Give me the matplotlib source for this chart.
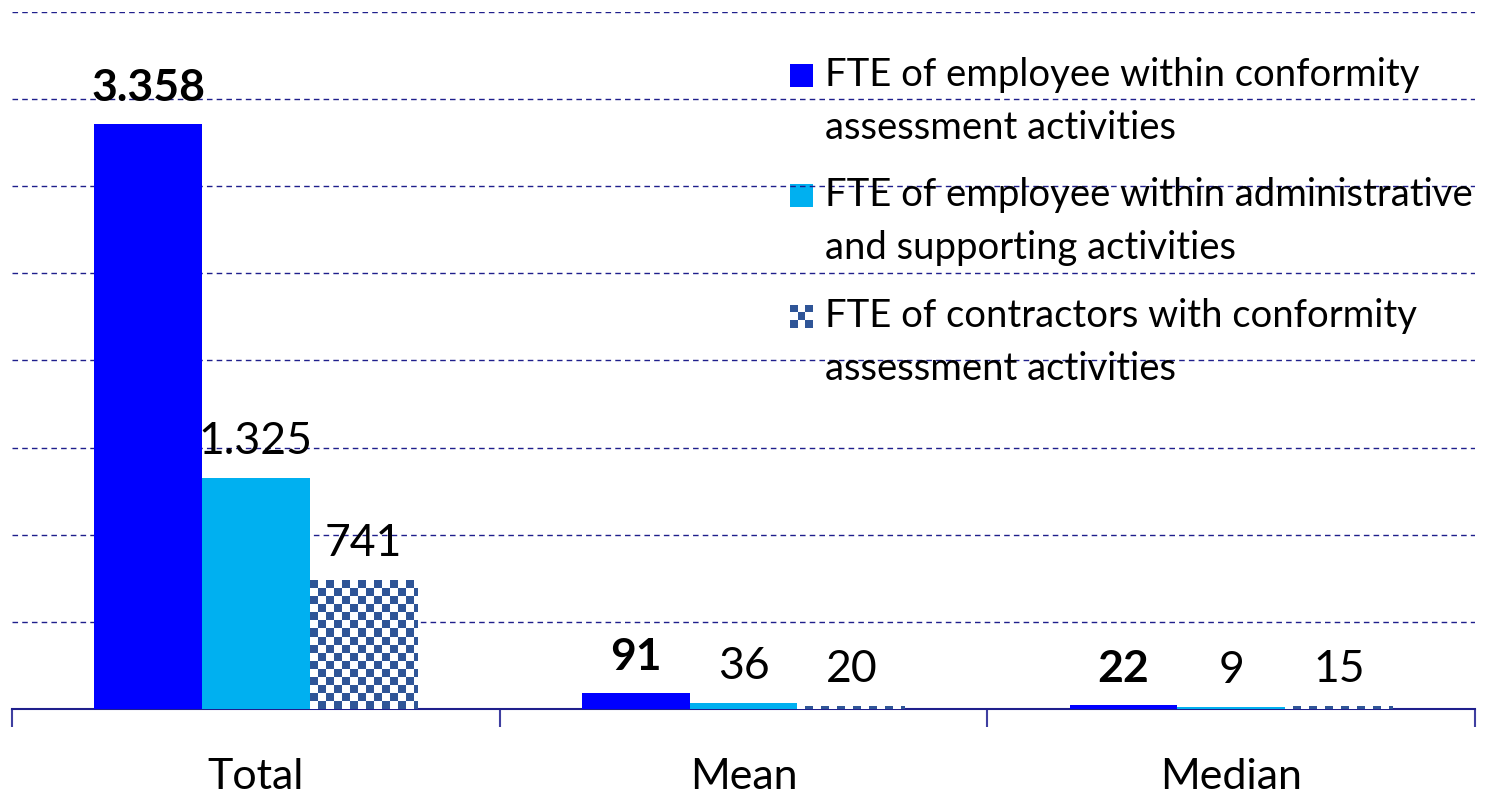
import numpy as np
import matplotlib
matplotlib.use("Agg")
import matplotlib.pyplot as plt
from matplotlib.patches import Rectangle

plt.rcParams['font.family'] = ['Lato', 'DejaVu Sans']

# data
categories = ["Total", "Mean", "Median"]
conformity = [3358, 91, 22]
admin = [1325, 36, 9]
contractors = [741, 20, 15]
series_labels = [
    "FTE of employee within conformity\nassessment activities",
    "FTE of employee within administrative\nand supporting activities",
    "FTE of contractors with conformity\nassessment activities",
]


def fmt(v):
    # thousands separator is a dot in the original
    return f"{v:,}".replace(",", ".")


W, H = 1497, 793
fig = plt.figure(figsize=(W / 100, H / 100), dpi=100)
ax = fig.add_axes([12 / W, (H - 709) / H, 1463 / W, 697 / H])

navy = "#1F1F8C"
c_blue = "#0000FF"
c_cyan = "#00B0F0"
c_check = "#2F5597"

x = np.arange(len(categories))
bw = 0.221

b1 = ax.bar(x - bw, conformity, bw, color=c_blue, zorder=3)
b2 = ax.bar(x, admin, bw, color=c_cyan, zorder=3)
b3 = ax.bar(x + bw, contractors, bw, color="white", zorder=3)

ax.set_xlim(-0.5, 2.5)
ax.set_ylim(0, 4000)

# checkerboard fill for contractors bars (8px cells)
cell_x = 8 / 1463 * 3.0
cell_y = 8 / 697 * 4000
for r in b3:
    x0, w, h = r.get_x(), r.get_width(), r.get_height()
    nx = int(np.ceil(w / cell_x)) + 1
    ny = int(np.ceil(h / cell_y)) + 1
    board = (np.add.outer(np.arange(ny), np.arange(nx)) % 2).astype(float)
    img = ax.imshow(board, cmap=matplotlib.colors.ListedColormap(["white", c_check]),
                    extent=(x0, x0 + nx * cell_x, 0, ny * cell_y), origin="lower",
                    interpolation="nearest", aspect="auto", zorder=3)
    img.set_clip_path(r)
ax.set_xlim(-0.5, 2.5)
ax.set_ylim(0, 4000)

# value labels
pad = 16
for bars, vals, bold in [(b1, conformity, True), (b2, admin, False), (b3, contractors, False)]:
    for r, v in zip(bars, vals):
        ax.annotate(fmt(v), (r.get_x() + r.get_width() / 2, r.get_height()),
                    xytext=(0, pad), textcoords="offset pixels", ha="center", va="bottom",
                    fontsize=32, fontweight="bold" if bold else "normal", color="black")

# grid and axes
ax.set_yticks(np.arange(500, 4001, 500))
ax.yaxis.grid(True, linestyle=(0, (4, 3)), color=navy, linewidth=1.0, zorder=0)
ax.tick_params(axis="y", left=False, labelleft=False)
for s in ["left", "right", "top"]:
    ax.spines[s].set_visible(False)
ax.spines["bottom"].set_color(navy)
ax.spines["bottom"].set_linewidth(1.5)

ax.set_xticks(x)
ax.set_xticklabels(categories, fontsize=31)
ax.tick_params(axis="x", which="major", length=0, pad=35)
ax.set_xticks([-0.5, 0.5, 1.5, 2.5], minor=True)
ax.tick_params(axis="x", which="minor", length=13, width=1.5, color="#3F3FA0", direction="out")

# legend drawn by hand so the marker sits on the first line of each label
tx = (825 - 12) / 1463
mx = (790 - 12) / 1463
msz_x = 23 / 1463
msz_y = 23 / 697
line_gap = 53 / 697
ys = [(709 - 75) / 697, (709 - 195) / 697, (709 - 316) / 697]
face = [c_blue, c_cyan, None]
for i, (lab, y0) in enumerate(zip(series_labels, ys)):
    for j, line in enumerate(lab.split("\n")):
        ax.text(tx, y0 - j * line_gap, line, transform=ax.transAxes, fontsize=27.5,
                va="center", ha="left", color="black")
    if face[i] is not None:
        ax.add_patch(Rectangle((mx, y0 - msz_y / 2), msz_x, msz_y, transform=ax.transAxes,
                               facecolor=face[i], edgecolor="none", clip_on=False))
    else:
        sx, sy = msz_x / 3, msz_y / 3
        for a in range(3):
            for b in range(3):
                if (a + b) % 2 == 0:
                    ax.add_patch(Rectangle((mx + a * sx, y0 - msz_y / 2 + b * sy), sx, sy,
                                           transform=ax.transAxes, facecolor=c_check,
                                           edgecolor="none", clip_on=False))

fig.savefig("out.png", dpi=100)
